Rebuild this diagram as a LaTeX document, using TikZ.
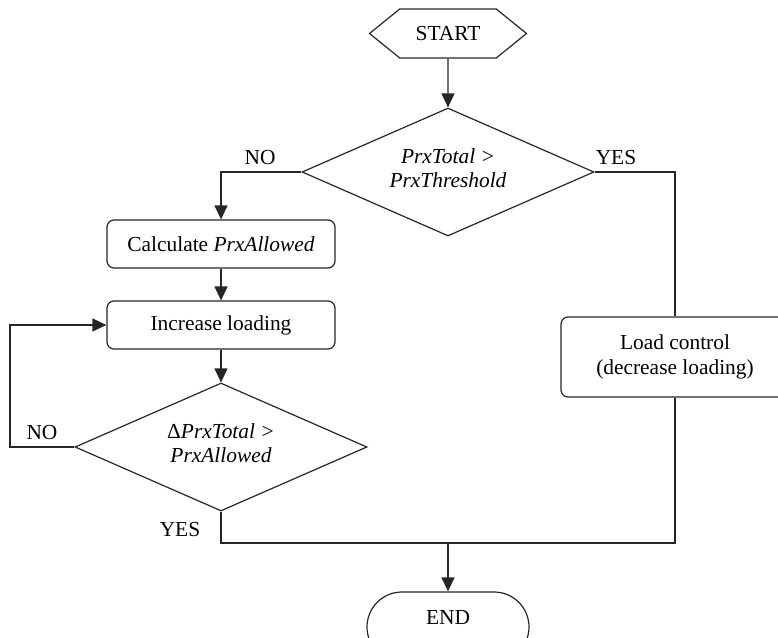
\documentclass[tikz,border=0pt]{standalone}
\usepackage{fontspec}
\setmainfont{Liberation Serif}
\usetikzlibrary{shapes.geometric,shapes.symbols,shapes.misc,arrows.meta}

\begin{document}
\begin{tikzpicture}[x=1pt,y=-1pt,
  every node/.style={font=\fontsize{21.4}{25.5}\selectfont},
  flow/.style={line width=1.2pt,draw=black!85},
  arr/.style={flow,-{Triangle[length=14pt,width=13pt]}},
  procbox/.style={flow,rectangle,rounded corners=7pt,inner sep=0pt,
    minimum width=228pt,align=center},
  decision/.style={flow,diamond,inner sep=0pt,minimum width=292pt,
    minimum height=128pt,shape aspect=2.28,align=center,text depth=8pt},
  startbox/.style={flow,signal,signal to=west and east,
    signal pointer angle=78,inner sep=0pt,minimum width=157pt,
    minimum height=49pt},
  endbox/.style={flow,rounded rectangle,inner sep=0pt,minimum width=162pt,
    minimum height=70pt,text depth=20pt},
  tag/.style={inner sep=0pt}
]
\useasboundingbox (0,0) rectangle (778,637);
\clip (0,0) rectangle (778,637);

% shapes
\node[startbox] (start) at (448,33.5) {START};
\node[decision] (d1) at (448,172) {\textit{PrxTotal >}\\[-1pt]\textit{PrxThreshold}};
\node[procbox,minimum height=48pt] (calc) at (221,244) {Calculate \textit{PrxAllowed}};
\node[procbox,minimum height=48pt] (inc) at (221,325) {Increase loading};
\node[decision] (d2) at (221,447) {Δ\textit{PrxTotal >}\\[-1pt]\textit{PrxAllowed}};
\node[procbox,minimum height=80pt] (load) at (675,357) {Load control\\(decrease loading)};
\node[endbox] (end) at (448,627) {END};

% branch labels
\node[tag] (no1) at (260,158) {NO};
\node[tag] (yes1) at (616,158) {YES};
\node[tag] (no2) at (42,433) {NO};
\node[tag] (yes2) at (180,530) {YES};

% helper points
\coordinate (loop) at (10,447);
\coordinate (merge) at (448,543);

% connectors
\draw[arr] (start) -- (d1);
\draw[arr] (d1.west) -| (calc.north);
\draw[flow] (d1.east) -| (load.north);
\draw[arr] (calc) -- (inc);
\draw[arr] (inc) -- (d2);
\draw[arr] (d2.west) -- (loop) |- (inc.west);
\draw[flow] (d2.south) |- (merge) -| (load.south);
\draw[arr] (merge) -- (end.north);
\end{tikzpicture}
\end{document}
